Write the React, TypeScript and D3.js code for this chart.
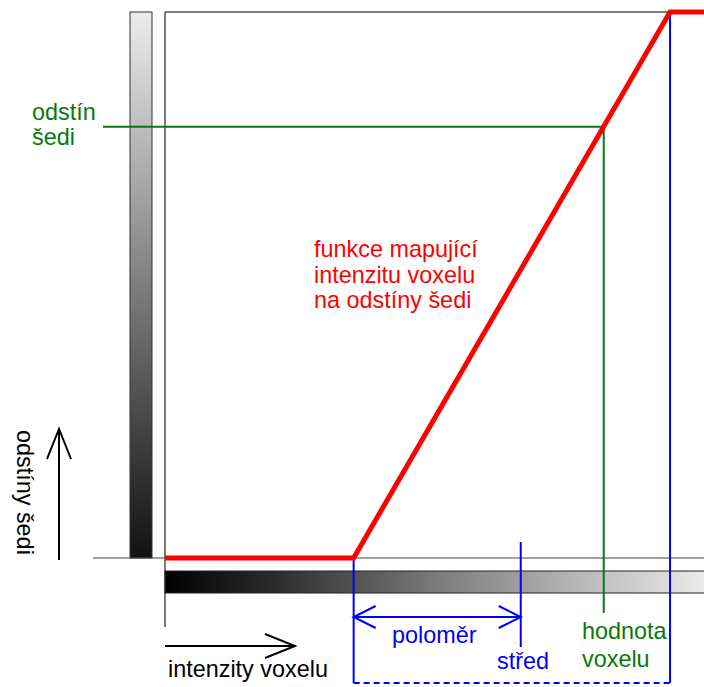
import React from "react";
import * as d3 from "d3";

// Transfer function (window/level) data, intensity 0..100 → shade 0..100
const transferIntensity = [0, 35, 93.7, 100];
const transferShade = [0, 0, 100, 100];
const windowLow = 35;
const windowHigh = 93.7;
const windowCenter = 66;
const voxelValue = 81.4;
const voxelShade = 79;

const rampStops = [0, 0.2, 0.5, 0.8, 1];
const hRampGrays = [0, 44, 124, 194, 238];
const vRampGrays = [18, 60, 126, 192, 236];

const labelFunction = ["funkce mapující", "intenzitu voxelu", "na odstíny šedi"];
const labelShade = ["odstín", "šedi"];
const labelVoxel = ["hodnota", "voxelu"];
const labelRadius = "poloměr";
const labelCenter = "střed";
const labelXAxis = "intenzity voxelu";
const labelYAxis = "odstíny šedi";

const W = 704;
const H = 687;
const FONT = "'Liberation Sans', Arial, sans-serif";
const GREEN = "#0a780a";
const BLUE = "#0000ff";
const RED = "#ff0000";

export default function App() {
  const x = d3.scaleLinear().domain([0, 100]).range([165, 704]);
  const y = d3.scaleLinear().domain([0, 100]).range([558, 12]);

  const pts: [number, number][] = transferIntensity.map((v, i) => [v, transferShade[i]]);
  const line = d3
    .line<[number, number]>()
    .x((d) => x(d[0]))
    .y((d) => y(d[1]));

  const xLow = x(windowLow);
  const xHigh = x(windowHigh);
  const xC = x(windowCenter);
  const xV = x(voxelValue);
  const yV = y(voxelShade);
  const y0 = y(0);
  const yTop = y(100);

  const gray = (g: number) => d3.rgb(g, g, g).formatHex();

  return (
    <svg
      width={W}
      height={H}
      style={{ position: "absolute", left: 0, top: 0, background: "#fff" }}
      fontFamily={FONT}
    >
      <defs>
        <linearGradient id="hgrad" x1="0" y1="0" x2="1" y2="0">
          {rampStops.map((s, i) => (
            <stop key={i} offset={s} stopColor={gray(hRampGrays[i])} />
          ))}
        </linearGradient>
        <linearGradient id="vgrad" x1="0" y1="1" x2="0" y2="0">
          {rampStops.map((s, i) => (
            <stop key={i} offset={s} stopColor={gray(vRampGrays[i])} />
          ))}
        </linearGradient>
      </defs>

      {/* vertical gray ramp */}
      <rect x={130} y={yTop} width={22} height={y0 - yTop} fill="url(#vgrad)" stroke="#333" strokeWidth={1} />
      {/* horizontal gray ramp */}
      <rect x={x(0)} y={571} width={W - x(0) + 10} height={22} fill="url(#hgrad)" stroke="#222" strokeWidth={1} />

      {/* frame */}
      <line x1={x(0)} y1={yTop} x2={W} y2={yTop} stroke="#555" strokeWidth={1.5} />
      <line x1={x(0)} y1={yTop} x2={x(0)} y2={627} stroke="#222" strokeWidth={1.2} />
      <line x1={93} y1={y0} x2={W} y2={y0} stroke="#444" strokeWidth={1} />

      {/* green voxel value lines */}
      <line x1={103} y1={yV} x2={xV} y2={yV} stroke={GREEN} strokeWidth={2} />
      <line x1={xV} y1={yV} x2={xV} y2={613} stroke={GREEN} strokeWidth={2} />

      {/* blue window lines */}
      <line x1={xLow} y1={y0} x2={xLow} y2={683} stroke={BLUE} strokeWidth={2} />
      <line x1={xHigh} y1={yTop} x2={xHigh} y2={683} stroke={BLUE} strokeWidth={2} />
      <line x1={xLow} y1={683} x2={xHigh} y2={683} stroke={BLUE} strokeWidth={2} strokeDasharray="6,4" />
      <line x1={xC} y1={542} x2={xC} y2={647} stroke={BLUE} strokeWidth={2} />
      {/* double arrow for radius */}
      <g stroke={BLUE} strokeWidth={2} fill="none">
        <line x1={xLow} y1={617} x2={xC} y2={617} />
        <polyline points={`${xLow + 22},${606} ${xLow},${617} ${xLow + 22},${628}`} />
        <polyline points={`${xC - 22},${606} ${xC},${617} ${xC - 22},${628}`} />
      </g>

      {/* transfer function */}
      <path d={line(pts) || ""} fill="none" stroke={RED} strokeWidth={5} strokeLinejoin="miter" />

      {/* axis arrows */}
      <g stroke="#000" strokeWidth={2} fill="none">
        <line x1={59} y1={560} x2={59} y2={429} />
        <polyline points="47,459 59,429 71,459" />
        <line x1={x(0)} y1={646} x2={295} y2={646} />
        <polyline points="265,634 295,646 265,658" />
      </g>

      {/* texts */}
      <g fontSize={23.4}>
        {labelFunction.map((t, i) => (
          <text key={i} x={314} y={257 + i * 25.5} fill={RED}>
            {t}
          </text>
        ))}
        {labelShade.map((t, i) => (
          <text key={i} x={32} y={120 + i * 25} fill={GREEN}>
            {t}
          </text>
        ))}
        {labelVoxel.map((t, i) => (
          <text key={i} x={582} y={639 + i * 28} fill={GREEN}>
            {t}
          </text>
        ))}
        <text x={392} y={643} fill={BLUE}>
          {labelRadius}
        </text>
        <text x={497} y={669} fill={BLUE}>
          {labelCenter}
        </text>
        <text x={168} y={677} fill="#000">
          {labelXAxis}
        </text>
        <text transform="translate(17,430) rotate(90)" fill="#000">
          {labelYAxis}
        </text>
      </g>
    </svg>
  );
}
